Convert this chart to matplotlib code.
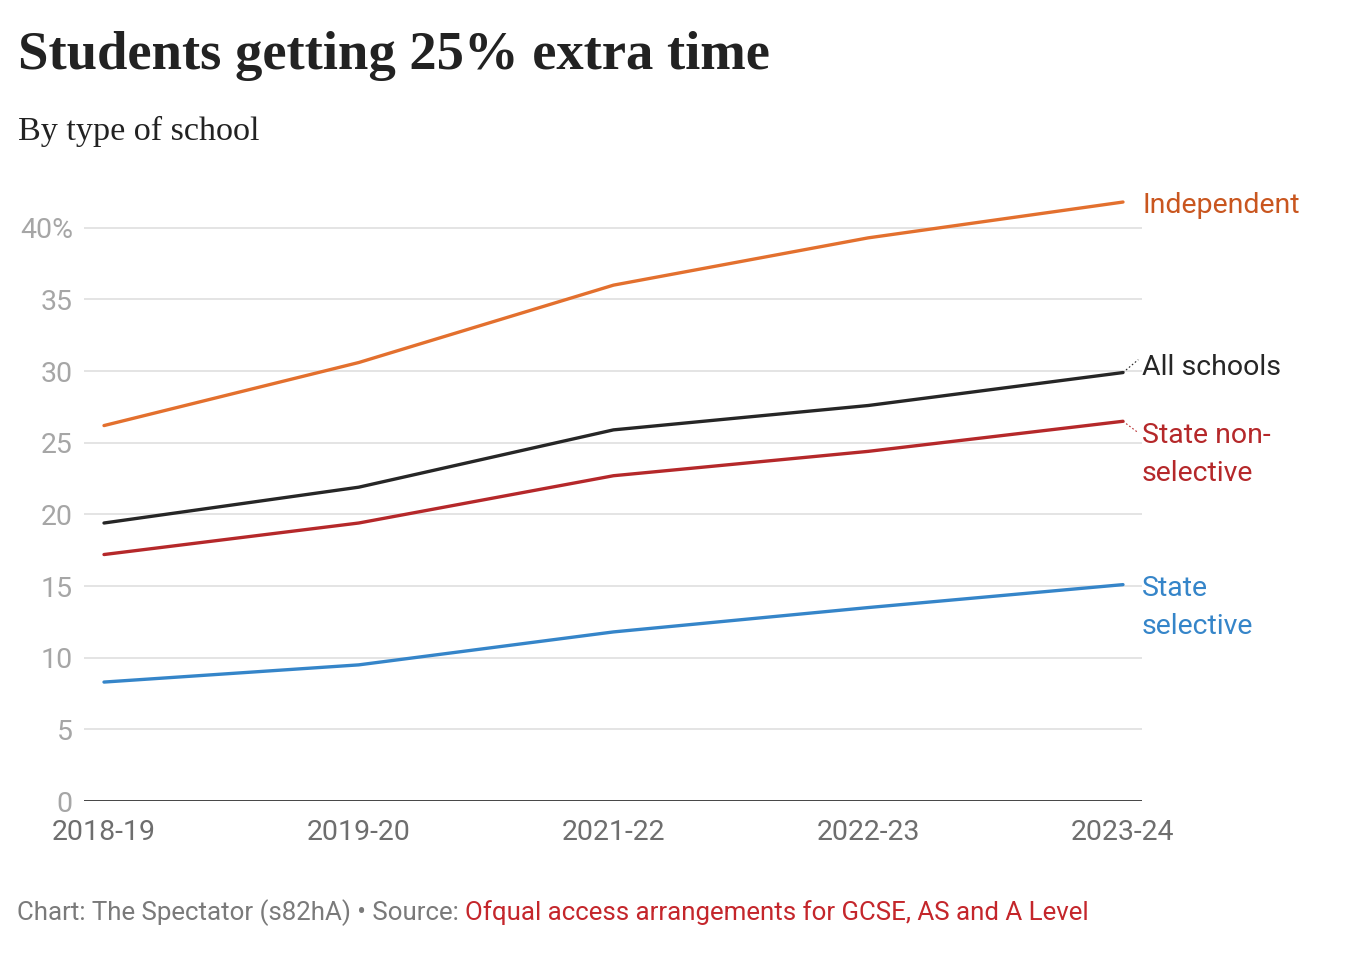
import numpy as np
import matplotlib
matplotlib.use("Agg")
from matplotlib import pyplot as plt

# data
years = ["2018-19", "2019-20", "2021-22", "2022-23", "2023-24"]
independent = [26.2, 30.6, 36.0, 39.3, 41.8]
all_schools = [19.4, 21.9, 25.9, 27.6, 29.9]
state_non_selective = [17.2, 19.4, 22.7, 24.4, 26.5]
state_selective = [8.3, 9.5, 11.8, 13.5, 15.1]

series_names = ["Independent", "All schools", "State non-\nselective", "State\nselective"]
series_values = [independent, all_schools, state_non_selective, state_selective]
line_colors = ["#e3702e", "#262626", "#b5282a", "#3585c9"]
label_colors = ["#c9561f", "#262626", "#b5282a", "#3585c9"]
label_dy = [-0.75, -0.16, -4.16, -3.44]   # nudge for end labels (baseline of last line)
leader = [0, 0.9, -0.8, 0]   # small dotted leader, rise in data units

yticks = [0, 5, 10, 15, 20, 25, 30, 35, 40]
ytick_labels = ["0", "5", "10", "15", "20", "25", "30", "35", "40%"]

W, H = 1350, 964
fig = plt.figure(figsize=(W / 100, H / 100), dpi=100)
fig.patch.set_facecolor("white")

ax = fig.add_axes([84 / W, (H - 801) / H, (1142 - 84) / W, 609 / H])
x = np.arange(len(years))

for yv in yticks[1:]:
	ax.axhline(yv, color="#e2e2e2", lw=1.3, zorder=1)
ax.axhline(0, color="#333333", lw=2, zorder=2)

for vals, c in zip(series_values, line_colors):
	ax.plot(x, vals, color=c, lw=2.4, solid_capstyle="round", zorder=3)

ax.set_xlim(-0.0785, 4.0746)
ax.set_ylim(0, 42.5)
for s in ax.spines.values():
	s.set_visible(False)

ax.set_yticks(yticks)
ax.set_yticklabels(ytick_labels, fontsize=20.5, color="#a6a6a6", family="Roboto")
ax.set_xticks(x)
ax.set_xticklabels(years, fontsize=20.5, color="#6e6e6e", family="Roboto")
ax.tick_params(axis="y", length=0, pad=8)
ax.tick_params(axis="x", length=0, pad=13)

# end labels
for name, vals, c, dy, ld in zip(series_names, series_values, label_colors, label_dy, leader):
	ax.text(4.0746, vals[-1] + dy, name, color=c, fontsize=20.5, family="Roboto",
		ha="left", va="baseline", linespacing=1.52, clip_on=False)
	if ld:
		ax.plot([4.0, 4.06], [vals[-1], vals[-1] + ld], color=c,
			lw=0.8, ls=(0, (1.5, 2)), clip_on=False, zorder=3)

# titles
fig.text(18 / W, 1 - 56 / H, "Students getting 25% extra time", fontsize=39.3,
	fontweight="bold", family="Liberation Serif", color="#222222", va="center")
fig.text(18 / W, 1 - 131 / H, "By type of school", fontsize=24.6,
	family="Liberation Serif", color="#222222", va="center")

# footer
t1 = fig.text(17 / W, 1 - 913 / H, "Chart: The Spectator (s82hA) \u2022 Source: ",
	fontsize=18.6, family="Roboto", color="#7a7a7a", va="center")
r = fig.canvas.get_renderer()
bb = t1.get_window_extent(renderer=r)
fig.text(bb.x1 / W, 1 - 913 / H, "Ofqual access arrangements for GCSE, AS and A Level",
	fontsize=18.6, family="Roboto", color="#c4262b", va="center")

fig.savefig("out.png", dpi=100, facecolor="white")
